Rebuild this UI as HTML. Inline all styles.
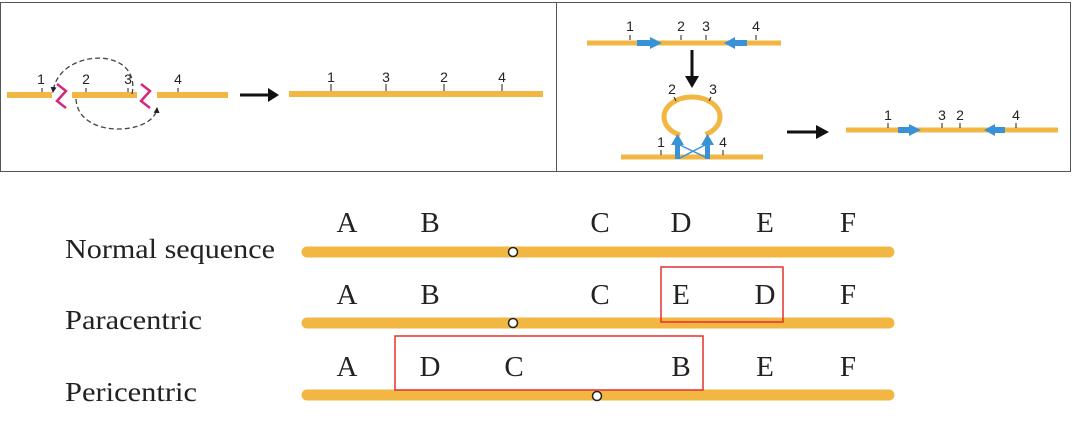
<!DOCTYPE html>
<html><head><style>
body{margin:0;background:#fff;}
svg{display:block;}
</style></head><body>
<svg width="1072" height="428" xmlns="http://www.w3.org/2000/svg">
<defs>
<marker id="ah" markerWidth="6" markerHeight="6" refX="5" refY="3" orient="auto" markerUnits="userSpaceOnUse"><path d="M0,0 L6,3 L0,6 z" fill="#222"/></marker>
</defs>
<rect x="0.5" y="2.5" width="556" height="169" fill="none" stroke="#555" stroke-width="1"/>
<rect x="556.5" y="2.5" width="514" height="169" fill="none" stroke="#555" stroke-width="1"/>
<g font-family="Liberation Sans, sans-serif" font-size="14" fill="#222" text-anchor="middle">
<g stroke="#F2B742" stroke-width="6">
<line x1="7" y1="95" x2="52" y2="95"/><line x1="72" y1="95" x2="137" y2="95"/><line x1="157" y1="95" x2="228" y2="95"/>
<line x1="289" y1="94" x2="543" y2="94"/>
</g>
<g stroke="#222" stroke-width="1">
<line x1="42" y1="88" x2="42" y2="92"/><line x1="86" y1="88" x2="86" y2="92"/><line x1="128" y1="88" x2="128" y2="92"/><line x1="178" y1="88" x2="178" y2="92"/>
<line x1="331" y1="84" x2="331" y2="91"/><line x1="386" y1="84" x2="386" y2="91"/><line x1="444" y1="84" x2="444" y2="91"/><line x1="502" y1="84" x2="502" y2="91"/>
</g>
<text x="41" y="84">1</text><text x="86" y="84">2</text><text x="128" y="84">3</text><text x="178" y="84">4</text>
<text x="331" y="82">1</text><text x="386" y="82">3</text><text x="444" y="82">2</text><text x="502" y="82">4</text>
<path d="M57,84 L66,91 L57,101 L66,108" fill="none" stroke="#D6287A" stroke-width="2.5"/>
<path d="M141,84 L150,91 L141,101 L150,108" fill="none" stroke="#D6287A" stroke-width="2.5"/>
<path d="M132,94 C142,45 58,48 53,92" fill="none" stroke="#444" stroke-width="1.3" stroke-dasharray="5,3" marker-end="url(#ah)"/>
<path d="M76,99 C78,140 155,135 157,108" fill="none" stroke="#444" stroke-width="1.3" stroke-dasharray="5,3" marker-end="url(#ah)"/>
<line x1="240" y1="95" x2="270" y2="95" stroke="#111" stroke-width="3"/><path d="M268,88 L279,95 L268,102 z" fill="#111"/>
<g stroke="#F2B742" stroke-width="5">
<line x1="587" y1="43" x2="781" y2="43"/>
<line x1="621" y1="157" x2="763" y2="157"/>
<line x1="846" y1="130" x2="1058" y2="130"/>
</g>
<ellipse cx="692" cy="117" rx="28" ry="20" fill="none" stroke="#F2B742" stroke-width="5" stroke-dasharray="124,26" stroke-dashoffset="-50"/>
<g fill="#3A92D6">
<rect x="637" y="40" width="14" height="6"/><path d="M650,37 L662,43 L650,49 z"/>
<rect x="734" y="40" width="13" height="6"/><path d="M735,37 L724,43 L735,49 z"/>
<rect x="898" y="127" width="12" height="6"/><path d="M909,124 L921,130 L909,136 z"/>
<rect x="994" y="127" width="11" height="6"/><path d="M995,124 L984,130 L995,136 z"/>
<rect x="675" y="143" width="5" height="16"/><path d="M671,145 L677.5,134 L684,145 z"/>
<rect x="705" y="143" width="5" height="16"/><path d="M701,145 L707.5,134 L714,145 z"/>
</g>
<path d="M680,145 L707,158 M680,158 L705,145" stroke="#3A92D6" stroke-width="1.5" fill="none"/>
<g stroke="#222" stroke-width="1">
<line x1="630" y1="35" x2="630" y2="40"/><line x1="681" y1="35" x2="681" y2="40"/><line x1="706" y1="35" x2="706" y2="40"/><line x1="756" y1="35" x2="756" y2="40"/>
<line x1="674" y1="97" x2="676" y2="101"/><line x1="711" y1="97" x2="709" y2="101"/>
<line x1="661" y1="150" x2="661" y2="155"/><line x1="723" y1="150" x2="723" y2="155"/>
<line x1="888" y1="123" x2="888" y2="128"/><line x1="942" y1="123" x2="942" y2="128"/><line x1="960" y1="123" x2="960" y2="128"/><line x1="1016" y1="123" x2="1016" y2="128"/>
</g>
<text x="630" y="31">1</text><text x="681" y="31">2</text><text x="706" y="31">3</text><text x="756" y="31">4</text>
<text x="672" y="94">2</text><text x="713" y="94">3</text>
<text x="661" y="147">1</text><text x="723" y="147">4</text>
<text x="888" y="120">1</text><text x="942" y="120">3</text><text x="960" y="120">2</text><text x="1016" y="120">4</text>
<line x1="692" y1="50" x2="692" y2="78" stroke="#111" stroke-width="3"/><path d="M685,76 L692,88 L699,76 z" fill="#111"/>
<line x1="787" y1="132" x2="818" y2="132" stroke="#111" stroke-width="3"/><path d="M816,125 L829,132 L816,139 z" fill="#111"/>
</g>
<g stroke="#F2B742" stroke-width="11" stroke-linecap="round">
<line x1="307" y1="252" x2="889" y2="252"/>
<line x1="307" y1="323" x2="889" y2="323"/>
<line x1="307" y1="395" x2="889" y2="395"/>
</g>
<g fill="#fff" stroke="#222" stroke-width="1.5">
<circle cx="513" cy="252" r="4.5"/><circle cx="513" cy="323" r="4.5"/><circle cx="597" cy="396" r="4.5"/>
</g>
<rect x="661" y="267" width="122" height="55" fill="none" stroke="#E5302A" stroke-width="1.5"/>
<rect x="395" y="336" width="308" height="54" fill="none" stroke="#E5302A" stroke-width="1.5"/>
<g font-family="Liberation Serif, serif" font-size="29" fill="#222" text-anchor="middle">
<text x="347" y="232">A</text><text x="430" y="232">B</text><text x="600" y="232">C</text><text x="681" y="232">D</text><text x="765" y="232">E</text><text x="848" y="232">F</text>
<text x="347" y="304">A</text><text x="430" y="304">B</text><text x="600" y="304">C</text><text x="681" y="304">E</text><text x="765" y="304">D</text><text x="848" y="304">F</text>
<text x="347" y="376">A</text><text x="430" y="376">D</text><text x="514" y="376">C</text><text x="681" y="376">B</text><text x="765" y="376">E</text><text x="848" y="376">F</text>
</g>
<g font-family="Liberation Serif, serif" font-size="27" fill="#222">
<text x="65" y="258" textLength="210" lengthAdjust="spacingAndGlyphs">Normal sequence</text>
<text x="65" y="329" textLength="137" lengthAdjust="spacingAndGlyphs">Paracentric</text>
<text x="65" y="401" textLength="132" lengthAdjust="spacingAndGlyphs">Pericentric</text>
</g>
</svg>
</body></html>
